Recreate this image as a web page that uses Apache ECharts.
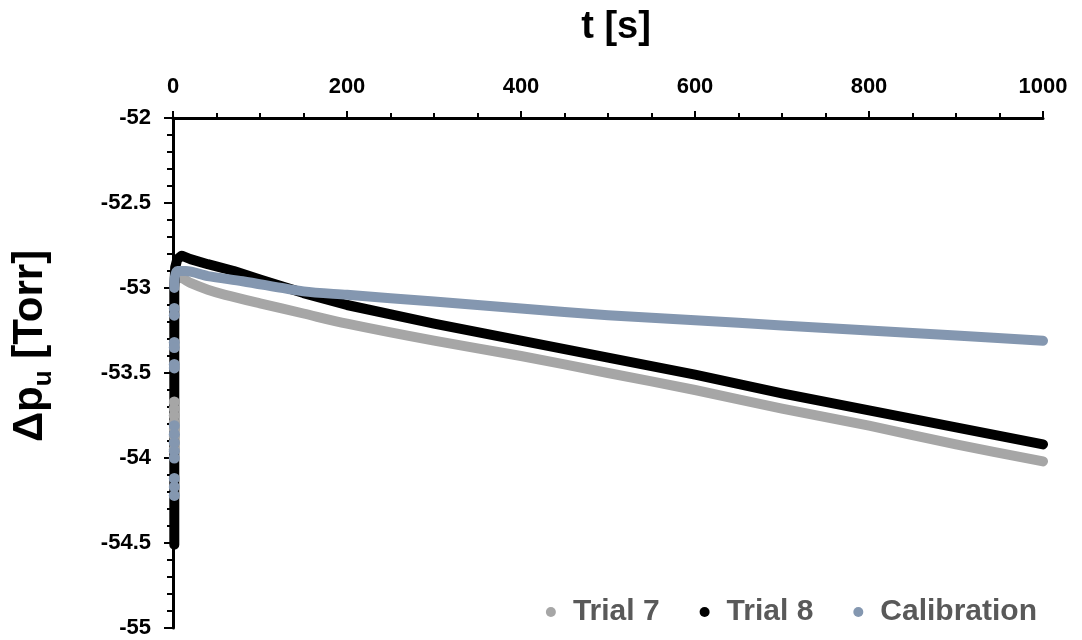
<!DOCTYPE html>
<html><head><meta charset="utf-8">
<script src="https://cdn.jsdelivr.net/npm/echarts@6/dist/echarts.min.js"></script>
<style>html,body{margin:0;padding:0;background:#fff}#c{width:1082px;height:640px}</style>
</head><body><div id="c"></div>
<script>
// ---- data ----
const seriesNames = ['Trial 7', 'Trial 8', 'Calibration'];
const xTickValues = [0, 200, 400, 600, 800, 1000];
const yTickValues = [-55, -54.5, -54, -53.5, -53, -52.5, -52];

const trial7Curve = [[3,-52.95],[8,-52.94],[20,-52.97],[40,-53.01],[60,-53.04],[100,-53.09],[150,-53.15],[200,-53.21],[300,-53.31],[400,-53.40],[500,-53.50],[600,-53.60],[700,-53.71],[800,-53.81],[900,-53.92],[1000,-54.02]];
const trial7Start = [[1.5,-53.67],[1.5,-53.71],[1.5,-53.75],[1.5,-53.79],[1.5,-53.83],[1.5,-53.87],[1.5,-53.91],[1.5,-53.95]];

const trial8Curve = [[1.5,-54.51],[1.5,-54.2],[1.5,-53.8],[1.5,-53.4],[1.5,-53.0],[2.5,-52.88],[5,-52.83],[10,-52.81],[20,-52.83],[40,-52.86],[70,-52.90],[100,-52.95],[125,-52.99],[150,-53.03],[200,-53.10],[300,-53.21],[400,-53.31],[500,-53.41],[600,-53.51],[700,-53.62],[800,-53.72],[900,-53.82],[1000,-53.92]];

const calibCurve = [[1.5,-53.0],[2,-52.94],[5,-52.90],[15,-52.90],[40,-52.93],[80,-52.96],[150,-53.02],[200,-53.04],[300,-53.08],[400,-53.12],[500,-53.16],[600,-53.19],[700,-53.22],[800,-53.25],[900,-53.28],[1000,-53.31]];
const calibStart = [[1.5,-53.12],[1.5,-53.16],[1.5,-53.32],[1.5,-53.35],[1.5,-53.45],[1.5,-53.47],[1.5,-53.81],[1.5,-53.86],[1.5,-53.91],[1.5,-53.96],[1.5,-54.0],[1.5,-54.12],[1.5,-54.17],[1.5,-54.22]];

const colors = { 'Trial 7': '#A6A6A6', 'Trial 8': '#000000', 'Calibration': '#8497B0' };
const FONT = 'Liberation Sans';

function lineSeries(name, data, z, smooth) {
  return { name, type: 'line', data, z, showSymbol: false, symbol: 'circle', smooth: smooth,
    lineStyle: { color: colors[name], width: 10, cap: 'round', join: 'round' },
    itemStyle: { color: colors[name] }, emphasis: { disabled: true }, silent: true };
}
function dotSeries(name, data, z) {
  return { name, type: 'scatter', data, z, symbol: 'circle', symbolSize: 11,
    itemStyle: { color: colors[name], opacity: 1 }, emphasis: { disabled: true }, silent: true };
}

const chart = echarts.init(document.getElementById('c'), null, { renderer: 'canvas' });
chart.setOption({
  animation: false,
  backgroundColor: '#fff',
  grid: { left: 173, right: 39, top: 118, bottom: 12, containLabel: false },
  xAxis: {
    type: 'value', position: 'top', min: xTickValues[0], max: xTickValues[xTickValues.length-1], interval: 200,
    axisLine: { show: true, onZero: false, lineStyle: { color: '#000', width: 3 } },
    axisTick: { show: true, length: 7, lineStyle: { color: '#000', width: 2 } },
    minorTick: { show: true, splitNumber: 4, length: 5, lineStyle: { color: '#000', width: 2 } },
    axisLabel: { fontSize: 22, fontWeight: 'bold', color: '#000', margin: 20, fontFamily: FONT,
      formatter: v => String(v) },
    splitLine: { show: false }
  },
  yAxis: {
    type: 'value', min: yTickValues[0], max: yTickValues[yTickValues.length-1], interval: 0.5,
    axisLine: { show: true, onZero: false, lineStyle: { color: '#000', width: 3 } },
    axisTick: { show: true, length: 9, lineStyle: { color: '#000', width: 2 } },
    minorTick: { show: true, splitNumber: 5, length: 6, lineStyle: { color: '#000', width: 2 } },
    axisLabel: { fontSize: 22, fontWeight: 'bold', color: '#000', margin: 22, fontFamily: FONT,
      formatter: v => String(v) },
    splitLine: { show: false }
  },
  legend: {
    data: seriesNames, right: 40, bottom: 8, icon: 'circle', itemWidth: 10, itemHeight: 10, itemGap: 40,
    textStyle: { fontSize: 30, fontWeight: 'bold', color: '#595959', fontFamily: FONT, padding: [0, 0, 0, 12] }
  },
  graphic: [
    { type: 'text', x: 616, y: 28, style: { text: 't [s]', font: 'bold 38px "Liberation Sans"', fill: '#000', align: 'center', verticalAlign: 'middle' } },
    { type: 'text', x: 30, y: 346, rotation: Math.PI / 2,
      style: { text: '{a|Δp}{b|u}{a| [Torr]}', align: 'center', verticalAlign: 'middle', fill: '#000',
        rich: {
          a: { fontSize: 42, fontWeight: 'bold', fontFamily: FONT, fill: '#000', lineHeight: 54, verticalAlign: 'middle' },
          b: { fontSize: 26, fontWeight: 'bold', fontFamily: FONT, fill: '#000', lineHeight: 26, verticalAlign: 'bottom' }
        } } }
  ],
  series: [
    lineSeries('Trial 7', trial7Curve, 2, 0.3),
    lineSeries('Trial 8', trial8Curve, 3, false),
    dotSeries('Trial 7', trial7Start, 4),
    lineSeries('Calibration', calibCurve, 5, 0.3),
    dotSeries('Calibration', calibStart, 6)
  ]
});
</script>
</body></html>
